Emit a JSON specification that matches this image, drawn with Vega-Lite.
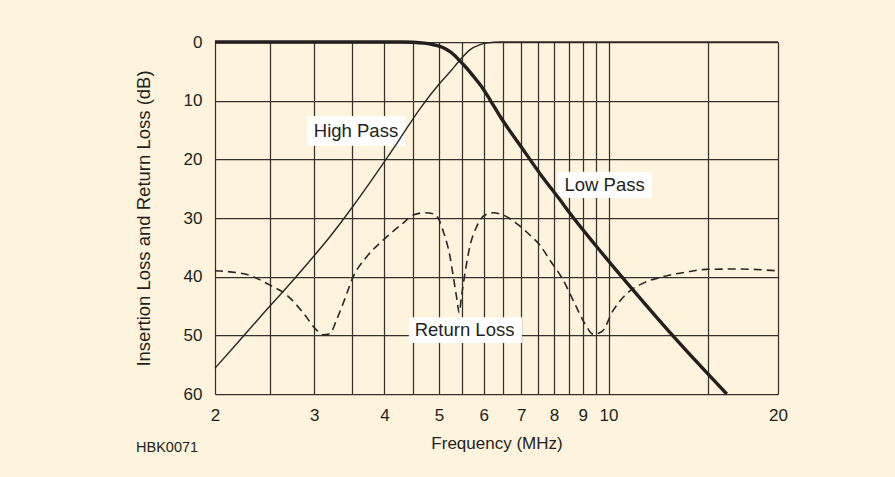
{
  "$schema": "https://vega.github.io/schema/vega-lite/v6.json",
  "width": 563,
  "height": 352,
  "autosize": "none",
  "padding": {"left": 215, "top": 42, "right": 117, "bottom": 83},
  "background": "#fef3dc",
  "config": {
    "view": {"stroke": null},
    "font": "Liberation Sans",
    "axis": {"labelFont": "Liberation Sans", "titleFont": "Liberation Sans"}
  },
  "datasets": {
    "curves": [
      {"series": "low", "f": 2.0, "db": 0},
      {"series": "low", "f": 4.3, "db": 0},
      {"series": "low", "f": 4.5, "db": 0.05},
      {"series": "low", "f": 4.7, "db": 0.2},
      {"series": "low", "f": 4.85, "db": 0.4},
      {"series": "low", "f": 5.0, "db": 0.7},
      {"series": "low", "f": 5.12, "db": 1.1},
      {"series": "low", "f": 5.23, "db": 1.65},
      {"series": "low", "f": 5.33, "db": 2.3},
      {"series": "low", "f": 5.43, "db": 3.1},
      {"series": "low", "f": 5.55, "db": 4.05},
      {"series": "low", "f": 5.7, "db": 5.35},
      {"series": "low", "f": 5.85, "db": 6.7},
      {"series": "low", "f": 5.99, "db": 8.0},
      {"series": "low", "f": 6.19, "db": 10.2},
      {"series": "low", "f": 6.42, "db": 12.7},
      {"series": "low", "f": 7.0, "db": 17.9},
      {"series": "low", "f": 7.55, "db": 22.4},
      {"series": "low", "f": 8.2, "db": 26.9},
      {"series": "low", "f": 8.54, "db": 29.2},
      {"series": "low", "f": 9.53, "db": 34.9},
      {"series": "low", "f": 11.06, "db": 42.3},
      {"series": "low", "f": 13.1, "db": 50.4},
      {"series": "low", "f": 16.22, "db": 60},
      {"series": "high", "f": 2.0, "db": 55.6},
      {"series": "high", "f": 2.16, "db": 52.0},
      {"series": "high", "f": 2.4, "db": 47.0},
      {"series": "high", "f": 2.77, "db": 40.3},
      {"series": "high", "f": 2.99, "db": 36.6},
      {"series": "high", "f": 3.2, "db": 33.2},
      {"series": "high", "f": 3.48, "db": 28.6},
      {"series": "high", "f": 3.98, "db": 20.7},
      {"series": "high", "f": 4.26, "db": 16.5},
      {"series": "high", "f": 4.63, "db": 11.3},
      {"series": "high", "f": 5.02, "db": 7.0},
      {"series": "high", "f": 5.25, "db": 4.9},
      {"series": "high", "f": 5.41, "db": 3.4},
      {"series": "high", "f": 5.68, "db": 1.3},
      {"series": "high", "f": 5.9, "db": 0.5},
      {"series": "high", "f": 6.1, "db": 0.15},
      {"series": "high", "f": 6.4, "db": 0},
      {"series": "high", "f": 20.0, "db": 0},
      {"series": "ret", "f": 2.0, "db": 39.0},
      {"series": "ret", "f": 2.25, "db": 39.5},
      {"series": "ret", "f": 2.5, "db": 41.4},
      {"series": "ret", "f": 2.68, "db": 43.1},
      {"series": "ret", "f": 2.87, "db": 46.2},
      {"series": "ret", "f": 3.03, "db": 49.1},
      {"series": "ret", "f": 3.11, "db": 49.9},
      {"series": "ret", "f": 3.2, "db": 49.7},
      {"series": "ret", "f": 3.29, "db": 47.3},
      {"series": "ret", "f": 3.38, "db": 44.5},
      {"series": "ret", "f": 3.52, "db": 40.0},
      {"series": "ret", "f": 3.72, "db": 36.6},
      {"series": "ret", "f": 3.98, "db": 33.75},
      {"series": "ret", "f": 4.3, "db": 31.0},
      {"series": "ret", "f": 4.5, "db": 29.5},
      {"series": "ret", "f": 4.72, "db": 29.1},
      {"series": "ret", "f": 4.89, "db": 29.3},
      {"series": "ret", "f": 5.0, "db": 30.3},
      {"series": "ret", "f": 5.1, "db": 32.6},
      {"series": "ret", "f": 5.23, "db": 36.6},
      {"series": "ret", "f": 5.3, "db": 40.0},
      {"series": "ret", "f": 5.37, "db": 43.4},
      {"series": "ret", "f": 5.43, "db": 46.1},
      {"series": "ret", "f": 5.48, "db": 43.4},
      {"series": "ret", "f": 5.56, "db": 39.4},
      {"series": "ret", "f": 5.67, "db": 34.9},
      {"series": "ret", "f": 5.83, "db": 31.5},
      {"series": "ret", "f": 6.03, "db": 29.5},
      {"series": "ret", "f": 6.24, "db": 29.1},
      {"series": "ret", "f": 6.5, "db": 29.5},
      {"series": "ret", "f": 6.86, "db": 30.9},
      {"series": "ret", "f": 7.25, "db": 32.9},
      {"series": "ret", "f": 7.55, "db": 34.6},
      {"series": "ret", "f": 7.87, "db": 37.2},
      {"series": "ret", "f": 8.31, "db": 40.6},
      {"series": "ret", "f": 8.65, "db": 44.0},
      {"series": "ret", "f": 9.08, "db": 48.0},
      {"series": "ret", "f": 9.39, "db": 49.8},
      {"series": "ret", "f": 9.72, "db": 49.4},
      {"series": "ret", "f": 10.2, "db": 45.7},
      {"series": "ret", "f": 10.77, "db": 42.9},
      {"series": "ret", "f": 11.53, "db": 41.1},
      {"series": "ret", "f": 12.5, "db": 40.0},
      {"series": "ret", "f": 13.77, "db": 39.2},
      {"series": "ret", "f": 14.93, "db": 38.75},
      {"series": "ret", "f": 16.9, "db": 38.7},
      {"series": "ret", "f": 20.0, "db": 39.0}
    ],
    "labels": [
      {"label": "High Pass", "f": 3.56, "db": 15.2, "f1": 2.913, "f2": 4.35, "d1": 12.6, "d2": 17.7},
      {"label": "Low Pass", "f": 9.84, "db": 24.4, "f1": 8.13, "f2": 11.95, "d1": 22.1, "d2": 26.6},
      {"label": "Return Loss", "f": 5.55, "db": 49.1, "f1": 4.42, "f2": 7.02, "d1": 46.9, "d2": 51.3}
    ],
    "code": [
      {"label": "HBK0071", "f": 1.448, "db": 69.2}
    ]
  },
  "layer": [
    {
      "data": {"name": "labels"},
      "mark": {"type": "rect", "color": "#ffffff"},
      "encoding": {
        "x": {
          "field": "f1", "type": "quantitative",
          "scale": {"type": "log", "domain": [2, 20], "nice": false},
          "axis": {
            "values": [2, 2.5, 3, 3.5, 4, 4.5, 5, 5.5, 6, 6.5, 7, 7.5, 8, 8.5, 9, 9.5, 10, 15, 20],
            "labelExpr": "indexof([2,3,4,5,6,7,8,9,10,20], datum.value) >= 0 ? datum.value : ''",
            "labelOverlap": false,
            "labelFlush": false,
            "labelFontSize": 17,
            "labelColor": "#231f20",
            "labelPadding": 13,
            "ticks": false,
            "domain": false,
            "grid": true,
            "gridColor": "#35312d",
            "gridWidth": 1.25,
            "title": "Frequency (MHz)",
            "titleFontSize": 17,
            "titleFontWeight": "normal",
            "titleColor": "#231f20",
            "titlePadding": 12
          }
        },
        "x2": {"field": "f2"},
        "y": {
          "field": "d1", "type": "quantitative",
          "scale": {"domain": [0, 60], "reverse": true, "nice": false, "zero": false},
          "axis": {
            "values": [0, 10, 20, 30, 40, 50, 60],
            "labelFontSize": 17,
            "labelColor": "#231f20",
            "labelPadding": 13,
            "ticks": false,
            "domain": false,
            "grid": true,
            "gridColor": "#35312d",
            "gridWidth": 1.25,
            "title": "Insertion Loss and Return Loss (dB)",
            "titleFontSize": 18.5,
            "titleFontWeight": "normal",
            "titleColor": "#231f20",
            "titlePadding": 30
          }
        },
        "y2": {"field": "d2"}
      }
    },
    {
      "data": {"name": "curves"},
      "transform": [{"filter": "datum.series === 'ret'"}],
      "mark": {"type": "line", "color": "#2a2626", "strokeWidth": 1.6, "strokeDash": [8, 5], "interpolate": "monotone"},
      "encoding": {
        "x": {"field": "f", "type": "quantitative"},
        "y": {"field": "db", "type": "quantitative"}
      }
    },
    {
      "data": {"name": "curves"},
      "transform": [{"filter": "datum.series === 'high'"}],
      "mark": {"type": "line", "color": "#2a2626", "strokeWidth": 1.4, "interpolate": "monotone"},
      "encoding": {
        "x": {"field": "f", "type": "quantitative"},
        "y": {"field": "db", "type": "quantitative"}
      }
    },
    {
      "data": {"name": "curves"},
      "transform": [{"filter": "datum.series === 'low'"}],
      "mark": {"type": "line", "color": "#231f20", "strokeWidth": 3.4, "interpolate": "monotone"},
      "encoding": {
        "x": {"field": "f", "type": "quantitative"},
        "y": {"field": "db", "type": "quantitative"}
      }
    },
    {
      "data": {"name": "labels"},
      "mark": {"type": "text", "align": "center", "baseline": "middle", "fontSize": 18.5, "color": "#231f20", "font": "Liberation Sans"},
      "encoding": {
        "x": {"field": "f", "type": "quantitative"},
        "y": {"field": "db", "type": "quantitative"},
        "text": {"field": "label"}
      }
    },
    {
      "data": {"name": "code"},
      "mark": {"type": "text", "align": "left", "baseline": "middle", "fontSize": 14.5, "color": "#231f20", "font": "Liberation Sans"},
      "encoding": {
        "x": {"field": "f", "type": "quantitative"},
        "y": {"field": "db", "type": "quantitative"},
        "text": {"field": "label"}
      }
    }
  ]
}
